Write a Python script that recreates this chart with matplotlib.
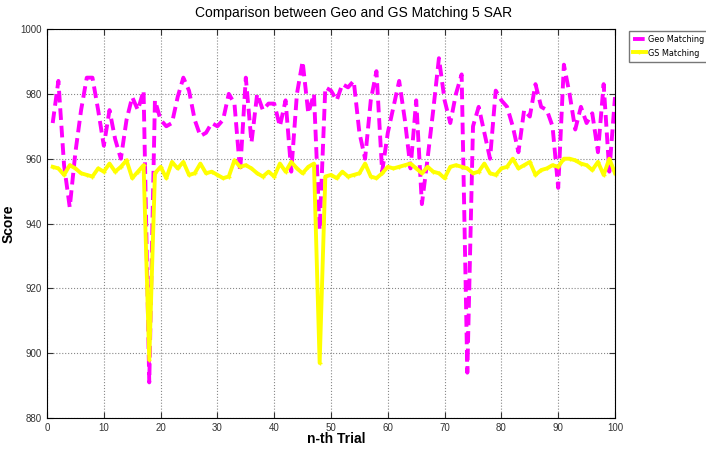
import numpy as np
import matplotlib
matplotlib.use('Agg')
import matplotlib.pyplot as plt

plt.rcParams['font.family'] = ['Liberation Sans', 'DejaVu Sans']

# trial number
trial = np.arange(1, 101)

# Geo Matching score
geo = [
    971, 984, 958, 945, 962, 975, 985, 985, 975, 964,
    975, 966, 960, 972, 979, 975, 981, 891, 978, 972,
    970, 971, 979, 985, 981, 972, 967, 968, 971, 970,
    972, 980, 977, 956, 985, 965, 980, 975, 977, 977,
    970, 978, 956, 980, 990, 974, 980, 938, 982, 981,
    978, 983, 982, 984, 968, 960, 978, 987, 956, 968,
    976, 984, 972, 957, 978, 946, 960, 975, 991, 978,
    971, 980, 986, 894, 970, 976, 968, 960, 981, 978,
    976, 970, 962, 975, 973, 983, 976, 975, 970, 951,
    989, 980, 969, 976, 971, 974, 962, 983, 956, 979,
]

# GS Matching score
gs = [
    957.5, 957, 955, 958, 957, 955.5, 955, 954.5, 957, 956,
    958.5, 956, 957.5, 959.5, 954, 956, 958, 898, 955.5, 957.5,
    954, 959, 957, 959, 955, 955.5, 958.5, 955.5, 956, 955,
    954, 954.5, 959.5, 957.5, 958, 957, 955.5, 954.5, 956, 954.5,
    958.5, 956, 959, 957, 955.5, 957.5, 958.5, 897, 954.5, 955,
    954, 956, 954.5, 955, 955.5, 958.5, 954.5, 954, 955.5, 957.5,
    957, 957.5, 958, 958.5, 957, 955.5, 957.5, 956, 955.5, 954,
    957.5, 958, 957.5, 957, 955.5, 956, 958.5, 955.5, 955, 957,
    957.5, 960, 957, 958, 959, 955, 956.5, 957, 958, 957.5,
    960, 960, 959.5, 958.5, 958, 956.5, 959, 955, 960, 955.5,
]

fig = plt.figure(figsize=(7.06, 4.5), dpi=100)
ax = fig.add_axes([0.0666, 0.071, 0.8045, 0.8645])

ax.plot(trial, geo, '--', color='#ff00ff', lw=2.8, dashes=(3, 1.5), label='Geo Matching')
ax.plot(trial, gs, '-', color='#ffff00', lw=2.8, marker='+', ms=3, label='GS Matching')

ax.set_xlim(0, 100)
ax.set_ylim(880, 1000)
ax.set_xticks(np.arange(0, 101, 10))
ax.set_yticks(np.arange(880, 1001, 20))
ax.tick_params(direction='in', top=True, right=True, labelsize=7, length=4, colors='#333333')
ax.grid(True, linestyle=':', color='#888888', lw=0.8)

ax.set_title('Comparison between Geo and GS Matching 5 SAR', fontsize=10, x=0.539, pad=9)
ax.set_xlabel('n-th Trial', fontsize=10, fontweight='bold')
ax.xaxis.set_label_coords(0.51, -0.035)
ax.set_ylabel('Score', fontsize=10, fontweight='bold')
ax.yaxis.set_label_coords(-0.055, 0.5)

leg_font = {'family': 'DejaVu Sans', 'stretch': 'condensed', 'size': 6.5}
fig.legend(loc='upper left', bbox_to_anchor=(0.884, 0.942), prop=leg_font,
           frameon=True, fancybox=False, edgecolor='#555555',
           handlelength=1.5, handletextpad=0.2, borderpad=0.45, labelspacing=0.55)

fig.savefig('out.png', dpi=100)
